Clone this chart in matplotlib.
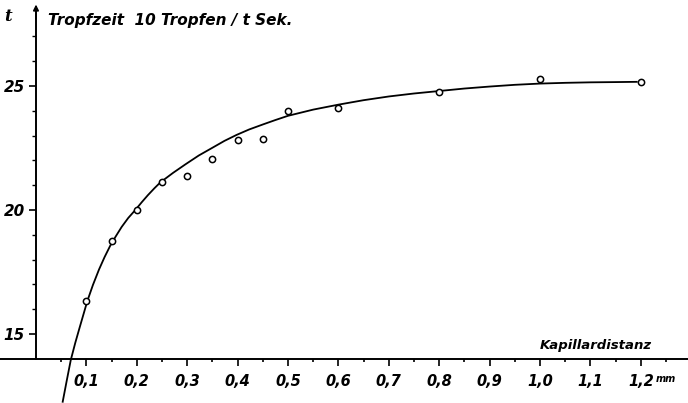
import matplotlib
matplotlib.use('Agg')
import matplotlib.pyplot as plt
from matplotlib.ticker import FixedLocator

# measured points (Kapillardistanz in mm, Tropfzeit in s)
dist_mm = [0.10, 0.15, 0.20, 0.25, 0.30, 0.35, 0.40, 0.45, 0.50, 0.60, 0.80, 1.00, 1.20]
drop_time = [16.34, 18.76, 20.0, 21.14, 21.36, 22.06, 22.83, 22.85, 24.0, 24.1, 24.75, 25.27, 25.15]

# hand-drawn fit curve
curve_x = [0.053, 0.061, 0.069, 0.078, 0.087, 0.095, 0.102, 0.113, 0.125, 0.136, 0.147, 0.158,
           0.170, 0.183, 0.197, 0.210, 0.222, 0.235, 0.247, 0.272, 0.297, 0.323, 0.349, 0.374,
           0.398, 0.423, 0.45, 0.475, 0.50, 0.55, 0.60, 0.65, 0.70, 0.75, 0.80, 0.85, 0.90,
           0.95, 1.00, 1.05, 1.10, 1.15, 1.192]
curve_y = [12.27, 13.12, 13.95, 14.65, 15.29, 15.85, 16.34, 16.98, 17.6, 18.1, 18.55, 18.93,
           19.32, 19.68, 20.0, 20.32, 20.6, 20.88, 21.12, 21.5, 21.85, 22.2, 22.5, 22.79,
           23.03, 23.25, 23.45, 23.63, 23.8, 24.05, 24.25, 24.43, 24.58, 24.7, 24.8, 24.9, 24.98,
           25.05, 25.1, 25.13, 25.15, 25.16, 25.17]

x_ticks = [0.1, 0.2, 0.3, 0.4, 0.5, 0.6, 0.7, 0.8, 0.9, 1.0, 1.1, 1.2]
x_labels = ['0,1', '0,2', '0,3', '0,4', '0,5', '0,6', '0,7', '0,8', '0,9', '1,0', '1,1', '1,2']
x_minor = [0.05, 0.15, 0.25, 0.35, 0.45, 0.55, 0.65, 0.75, 0.85, 0.95, 1.05, 1.15, 1.25]
y_ticks = [15, 20, 25]
y_minor = [16, 17, 18, 19, 21, 22, 23, 24, 26, 27]

font = dict(family='DejaVu Sans', style='italic', weight='bold')

fig = plt.figure(figsize=(6.88, 4.03), dpi=100)
ax = fig.add_axes([0, 0, 1, 1])
ax.set_xlim(-0.0714, 1.2937)
ax.set_ylim(12.22, 28.47)

ax.plot(curve_x, curve_y, color='black', lw=1.3)
ax.plot(dist_mm, drop_time, 'o', ms=4.5, mfc='white', mec='black', mew=1.1)

for side in ['top', 'right']:
    ax.spines[side].set_visible(False)
ax.spines['left'].set_position(('data', 0))
ax.spines['bottom'].set_position(('data', 14))
ax.spines['left'].set_bounds(14, 28.2)
ax.spines['left'].set_linewidth(1.4)
ax.spines['bottom'].set_linewidth(1.4)
ax.annotate('', xy=(0, 28.4), xytext=(0, 27.6),
            arrowprops=dict(arrowstyle='-|>', lw=1.2, color='black', mutation_scale=8))

ax.xaxis.set_major_locator(FixedLocator(x_ticks))
ax.set_xticklabels(x_labels, fontsize=10.5, **font)
ax.xaxis.set_minor_locator(FixedLocator(x_minor))
ax.yaxis.set_major_locator(FixedLocator(y_ticks))
ax.set_yticklabels([str(v) for v in y_ticks], fontsize=11, **font)
ax.yaxis.set_minor_locator(FixedLocator(y_minor))
ax.tick_params(axis='x', which='major', direction='out', length=5, width=1.2, pad=6)
ax.tick_params(axis='x', which='minor', direction='out', length=2, width=1.2)
ax.tick_params(axis='y', which='major', direction='out', length=5, width=1.2, pad=3)
ax.tick_params(axis='y', which='minor', direction='out', length=3, width=1)

ax.text(0.0065, 0.96, 't', transform=fig.transFigure, fontsize=12, ha='left', va='center',
        family='DejaVu Serif', style='italic', weight='bold')
ax.text(0.07, 0.95, 'Tropfzeit  10 Tropfen / t Sek.', transform=fig.transFigure,
        fontsize=11, ha='left', va='center', **font)
ax.text(0.948, 0.143, 'Kapillardistanz', transform=fig.transFigure,
        fontsize=9.5, ha='right', va='center', **font)
ax.text(0.953, 0.06, 'mm', transform=fig.transFigure,
        fontsize=7, ha='left', va='center', **font)

fig.savefig('out.png', dpi=100)
